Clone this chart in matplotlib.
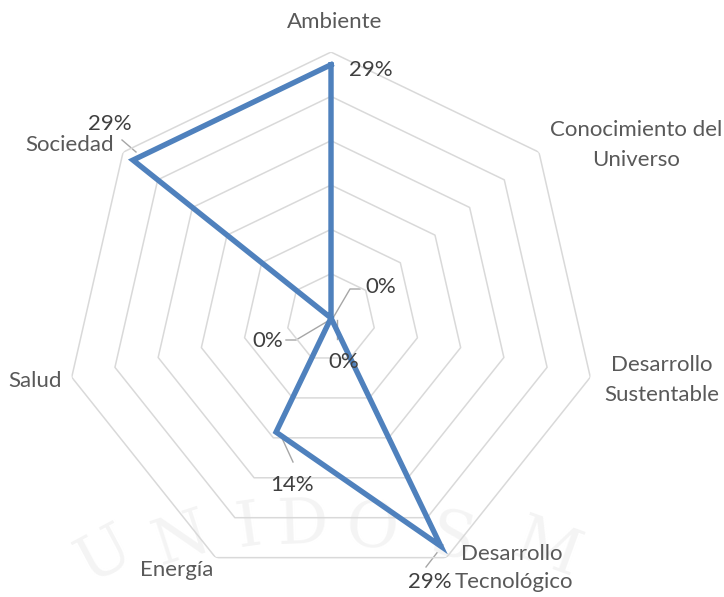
import numpy as np
import matplotlib
import matplotlib.pyplot as plt
matplotlib.use("Agg")

categories = ["Ambiente", "Conocimiento del\nUniverso", "Desarrollo\nSustentable",
              "Desarrollo\nTecnológico", "Energía", "Salud", "Sociedad"]
values = [2/7, 0, 0, 2/7, 1/7, 0, 2/7]
value_labels = ["29%", "0%", "0%", "29%", "14%", "0%", "29%"]
ring_levels = [0.05, 0.10, 0.15, 0.20, 0.25, 0.30]

plt.rcParams['font.family'] = ['Lato', 'DejaVu Sans']
text_col = "#595959"
blue = "#4F81BD"
fs = 16

fig = plt.figure(figsize=(7.24, 5.97), dpi=100)

# faint watermark behind the chart
wm = fig.add_axes([0, 0, 1, 1])
wm.set_axis_off()
wm.set_xlim(0, 724)
wm.set_ylim(597, 0)
wm_letters = ["U", "N", "I", "D", "O", "S", "M"]
wm_x = [105, 182, 248, 302, 372, 452, 548]
wm_y = [555, 540, 528, 526, 530, 540, 550]
wm_rot = [28, 18, 8, 2, -4, -12, -20]
for ch, x, y, r in zip(wm_letters, wm_x, wm_y, wm_rot):
    wm.text(x, y, ch, fontsize=46, family="DejaVu Serif", color="#f4f4f4",
            rotation=r, ha="center", va="center")

ax = fig.add_axes([0.0898, 0.0218, 0.7348, 0.891], projection="polar")
ax.patch.set_alpha(0)
n = len(categories)
angles = np.pi / 2 - np.arange(n) * 2 * np.pi / n

# heptagon grid
closed = np.append(angles, angles[0])
for lvl in ring_levels:
    ax.plot(closed, [lvl] * (n + 1), color="#D9D9D9", lw=1.1, zorder=1)

ax.plot(closed, values + [values[0]], color=blue, lw=3.9, zorder=3,
        solid_joinstyle="miter")

ax.set_ylim(0, 0.30)
ax.grid(False)
ax.spines["polar"].set_visible(False)
ax.set_xticks([])
ax.set_yticks([])


def px(x, y):
    # figure pixel (from top-left) -> figure fraction
    return x / 724, 1 - y / 597


# category labels
cat_pos = [(335, 22), (636, 145), (662, 380), (512, 570), (177, 570), (35, 381), (70, 145)]
for lab, (x, y) in zip(categories, cat_pos):
    if lab.startswith("Desarrollo\nTec"):
        fig.text(*px(512, 554), "Desarrollo", ha="center", va="center",
                 fontsize=fs, color=text_col)
        fig.text(*px(514, 582), "Tecnológico", ha="center", va="center",
                 fontsize=fs, color=text_col)
        continue
    fig.text(*px(x, y), lab, ha="center", va="center", fontsize=fs, color=text_col,
             linespacing=1.6, multialignment="center")

# data labels with leader lines
lab_pos = [(371, 70), (381, 287), (344, 362), (430, 582), (292, 485), (268, 341), (110, 124)]
leaders = {
    1: [(360, 289), (350, 289), (333, 318)],
    2: [(337, 339), (337, 320)],
    3: [(426, 567), (443, 545)],
    4: [(293, 462), (281, 436)],
    5: [(286, 340), (296, 340), (333, 318)],
    6: [(122, 140), (136, 152)],
}
for i, (x, y) in enumerate(lab_pos):
    fig.text(*px(x, y), value_labels[i], ha="center", va="center",
             fontsize=fs, color="#404040", zorder=5)
for pts in leaders.values():
    xs = [p[0] for p in pts]
    ys = [p[1] for p in pts]
    wm.plot(xs, ys, color="#A6A6A6", lw=1.0, zorder=2)

fig.savefig("out.png", dpi=100)
